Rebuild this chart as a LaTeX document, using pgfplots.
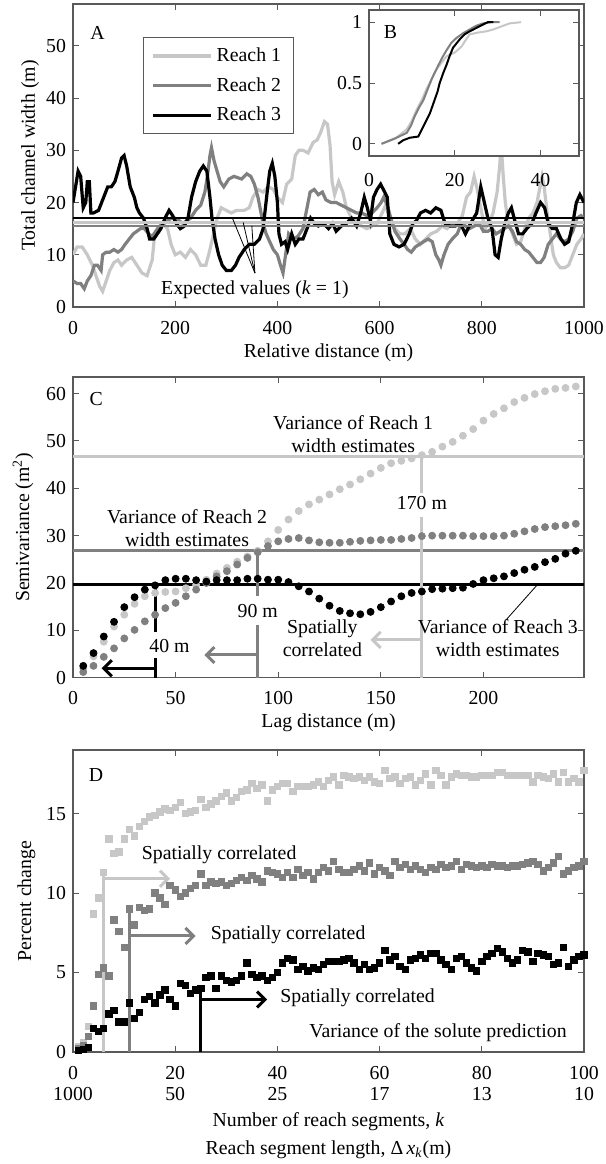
\documentclass[border=0pt]{standalone}
\usepackage{fontspec}
\setmainfont{Liberation Serif}
\usepackage{pgfplots}
\pgfplotsset{compat=1.18}
\usetikzlibrary{arrows.meta}
\definecolor{lg}{gray}{0.78}
\definecolor{dg}{gray}{0.5}
\definecolor{ax}{gray}{0.35}
\newcommand{\fs}{\fontsize{9.9}{11.5}\selectfont}
\pgfplotsset{
  myax/.style={
    scale only axis, width=255.5pt, font=\fs,
    axis line style={ax, line width=0.6pt},
    every tick/.style={ax, line width=0.5pt},
    major tick length=3pt, tick align=inside,
    /pgf/number format/assume math mode=true,
    /pgf/number format/1000 sep={},
    xticklabel style={yshift=-3.5pt},
    ylabel style={anchor=center},
    xlabel style={anchor=center},
  }
}
\begin{document}
\begin{tikzpicture}
\useasboundingbox (0,0) rectangle (303pt,-582pt);
% ---------------- Panel A ----------------
\begin{axis}[myax, at={(36.5pt,-2pt)}, anchor=north west, height=151.5pt,
  xmin=0, xmax=1000, ymin=0, ymax=58,
  xtick={0,200,...,1000}, ytick={0,10,...,50},
  xlabel={Relative distance (m)}, ylabel={Total channel width (m)},
  xlabel style={at={(axis description cs:0.5,-0.152)}},
  ylabel style={at={(axis description cs:-0.084,0.5)}},
  legend style={at={(axis description cs:0.137,0.891)}, anchor=north west,
    draw=ax, line width=0.5pt, font=\fs, row sep=2.5pt, inner xsep=4pt, inner ysep=3pt,
    cells={anchor=west}},
  legend image code/.code={\draw[#1] (0pt,0pt) -- (29pt,0pt);},
  legend cell align=left]
\addplot[lg, line width=1.6pt] coordinates {
(0,10) (8,11.5) (18,11.5) (28,10) (38,8) (45,6) (52,4) (58,3) (65,5) (72,7) (80,8.5) (88,9) (95,8) (105,9) (115,9.5) (125,8) (135,6.5) (145,6) (155,9) (160,14) (165,15) (175,16) (185,15) (192,12) (200,10) (210,10.5) (220,9.5) (230,11) (240,10) (250,8) (260,8) (268,11) (275,14) (282,17) (290,19) (300,18.5) (310,18) (320,18.5) (335,18.5) (345,19) (352,21) (362,22.5) (372,22) (382,23) (392,22.5) (400,21) (410,20) (418,23.5) (428,24.5) (435,29) (442,30) (450,30) (460,29.5) (470,31.5) (478,32) (485,33.5) (492,35.5) (498,35) (503,31) (507,24) (512,21.5) (520,24) (528,22) (535,19) (545,17) (555,16.5) (565,15.5) (575,15) (585,15.5) (595,16) (605,18) (612,19.5) (620,17) (630,15) (640,14) (650,14) (660,15) (670,13) (680,12) (690,13) (700,14) (712,14.5) (722,15.5) (732,15) (742,16) (752,16) (762,17.5) (770,21) (778,22) (785,25) (790,23) (798,19) (806,15) (814,16) (822,18) (830,22) (835,27) (838,31) (842,25) (846,20) (852,16) (860,14) (868,12) (876,12.5) (884,15) (892,17) (900,18) (908,20) (914,23) (918,25) (922,23) (928,18) (934,14) (940,10) (946,8.5) (954,7.5) (962,7.5) (970,8) (978,10) (986,12) (994,13) (1000,14)};
\addlegendentry{Reach 1}
\addplot[dg, line width=1.6pt] coordinates {
(0,5) (8,4.5) (15,4.5) (22,3.5) (28,5) (35,6) (42,8) (48,8) (55,7) (58,10) (65,10.5) (72,10.5) (80,11) (88,10.5) (95,11) (102,12) (110,13) (118,14) (125,14.5) (132,15) (140,15) (148,14) (155,13.5) (162,14.5) (170,15.5) (178,16) (185,16.5) (192,17) (200,17) (208,16.5) (215,16) (222,16.5) (230,17) (240,18.5) (250,19.5) (258,22) (263,25) (268,29) (271,30.5) (276,28) (282,26) (288,24) (295,23) (305,24.5) (315,25) (330,24.5) (340,25.5) (348,25) (355,23.5) (362,21) (366,19) (372,16) (378,14) (385,12.5) (392,11) (400,10) (406,8) (411,6.5) (416,10) (422,14) (430,13) (440,13.5) (450,15) (458,19) (464,22) (472,22.5) (480,21.5) (488,22) (495,20.5) (505,20) (515,20) (525,19.5) (535,19) (545,18.5) (555,18) (565,18) (575,17.5) (585,18) (595,19) (603,20) (608,21) (615,19.5) (622,17) (630,14.5) (640,13) (648,12) (655,11) (662,10.5) (670,11.5) (678,12) (686,12.5) (695,13) (703,12.5) (710,10) (716,9) (720,8) (726,10) (734,12) (742,13) (752,14) (760,16) (768,15.5) (776,15) (785,15.5) (795,16) (803,14.5) (812,14.5) (820,15) (828,14) (836,14.5) (844,15) (852,15.5) (860,14.5) (868,12.5) (876,12) (884,11) (892,10.5) (900,9.5) (908,8.5) (915,8.5) (922,9.5) (930,12) (938,13) (946,14) (954,13) (962,12.5) (970,13) (978,14.5) (986,17) (994,17.5) (1000,17)};
\addlegendentry{Reach 2}
\addplot[black, line width=1.6pt] coordinates {
(0,20) (5,23) (10,26) (15,25) (20,19) (25,20) (28,24) (32,24) (35,18) (40,18) (50,18.5) (60,21) (68,23) (75,23) (82,24) (88,26) (95,28.5) (100,29) (105,27) (112,23) (120,21) (125,19) (130,18) (138,17) (145,15) (150,13) (158,13) (165,14) (172,15) (180,17) (188,18.5) (195,17.5) (202,16) (210,15) (218,15.5) (225,17) (232,21) (240,24) (248,26) (255,27) (262,26) (268,21) (272,17) (278,13) (285,10) (292,8) (300,7) (310,7) (318,8) (325,9.5) (335,11) (345,12) (355,12) (365,13) (372,15) (380,22) (385,26) (390,27.5) (395,25) (400,20) (403,14) (408,12) (415,12.5) (420,11) (428,14) (435,12) (442,13) (450,13) (458,15) (465,17) (472,16) (480,15.5) (490,16) (500,15) (508,16) (515,14.5) (525,15.5) (535,16) (545,17) (555,15.5) (563,18) (570,21) (576,19) (582,16.5) (588,21) (595,22.5) (602,23.5) (610,22) (615,21) (620,14) (628,12) (638,11.5) (648,12) (658,14) (665,16) (672,16.5) (680,18) (690,18.5) (700,18) (710,19) (720,18.5) (728,16) (738,15.5) (748,15.5) (758,16) (768,14) (778,16) (790,18) (798,23) (805,20) (812,17) (820,15) (826,10) (832,9.5) (838,13) (845,16) (852,18) (858,19) (866,16) (872,14) (880,14) (888,15) (898,16) (906,18) (915,20) (923,19) (930,16) (938,15) (946,15) (955,13) (962,12) (970,12.5) (978,16) (985,20) (992,21.5) (1000,20)};
\addlegendentry{Reach 3}
\addplot[black, line width=1.2pt, forget plot] coordinates {(0,17.0) (1000,17.0)};
\addplot[lg, line width=1.2pt, forget plot] coordinates {(0,16.2) (1000,16.2)};
\addplot[dg, line width=1.2pt, forget plot] coordinates {(0,15.5) (1000,15.5)};
\draw[black, line width=0.4pt] (axis cs:356,6.5) -- (axis cs:312,17.0);
\draw[black, line width=0.4pt] (axis cs:356,6.5) -- (axis cs:333,16.2);
\draw[black, line width=0.4pt] (axis cs:356,6.5) -- (axis cs:350,15.5);
\node[font=\fs, fill=white, inner sep=1pt] at (axis cs:356,3.3) {Expected values (\textit{k} = 1)};
\node[font=\fs] at (axis cs:48,52.5) {A};
\end{axis}
% ---------------- Inset B ----------------
\begin{axis}[myax, at={(184.5pt,-5pt)}, anchor=north west, width=105pt, height=73pt,
  xmin=0, xmax=49, ymin=-0.1, ymax=1.1,
  xtick={0,20,40}, ytick={0,0.5,1},
  xticklabel style={yshift=-1.5pt},
  axis background/.style={fill=white}]
\addplot[lg, line width=1pt] coordinates {
(3,0) (6,0.04) (8.8,0.12) (10,0.19) (11.1,0.28) (12.3,0.36) (13.4,0.45) (14.6,0.53) (15.7,0.61) (17,0.67) (18.1,0.72) (20,0.75) (21.6,0.80) (22.5,0.85) (23.5,0.90) (25.5,0.915) (27.4,0.925) (29,0.94) (30.5,0.96) (32.8,0.99) (35.5,1.0)};
\addplot[dg, line width=1pt] coordinates {
(2.9,0) (6.4,0.05) (8.8,0.09) (9.8,0.15) (10.7,0.23) (11.7,0.30) (12.7,0.36) (13.7,0.45) (14.6,0.53) (15.4,0.59) (16.1,0.64) (17.1,0.71) (18.1,0.77) (19.2,0.83) (20.4,0.87) (22,0.91) (23.5,0.94) (25,0.97) (26.6,0.99) (28.5,1.0) (30.5,1.0)};
\addplot[black, line width=1pt] coordinates {
(6.8,0) (8,0.03) (9.5,0.05) (11.5,0.06) (12.7,0.145) (14.2,0.25) (15.3,0.36) (16,0.43) (16.5,0.5) (17.3,0.58) (18.1,0.65) (18.8,0.72) (19.6,0.79) (21.2,0.86) (22.3,0.90) (23.5,0.925) (25.8,0.966) (27.7,1.0) (29,1.0)};
\node[font=\fs] at (axis cs:5,0.92) {B};
\end{axis}
% ---------------- Panel C ----------------
\begin{axis}[myax, at={(36.5pt,-188.5pt)}, anchor=north west, height=150.35pt,
  xmin=0, xmax=249, ymin=0, ymax=63.5,
  xtick={0,50,...,200}, ytick={0,10,...,60},
  xlabel={Lag distance (m)}, ylabel={Semivariance (m\textsuperscript{2})},
  xlabel style={at={(axis description cs:0.5,-0.15)}},
  ylabel style={at={(axis description cs:-0.098,0.5)}}]
\addplot[lg, line width=1.5pt] coordinates {(0,46.8) (249,46.8)};
\addplot[dg, line width=1.5pt] coordinates {(0,26.8) (249,26.8)};
\addplot[black, line width=1.5pt] coordinates {(0,19.7) (249,19.7)};
\draw[lg, line width=1.5pt] (axis cs:170,0) -- (axis cs:170,34);
\draw[lg, line width=1.5pt] (axis cs:170,39.1) -- (axis cs:170,46.8);
\draw[dg, line width=1.5pt] (axis cs:90,0) -- (axis cs:90,11.2);
\draw[dg, line width=1.5pt] (axis cs:90,17.2) -- (axis cs:90,26.8);
\draw[black, line width=1.5pt] (axis cs:40,0) -- (axis cs:40,4.2);
\draw[black, line width=1.5pt] (axis cs:40,9.6) -- (axis cs:40,19.7);
\draw[lg, line width=1.5pt, -{Straight Barb[length=4pt,width=8pt]}] (axis cs:170,8.0) -- (axis cs:145,8.0);
\draw[dg, line width=1.5pt, -{Straight Barb[length=4pt,width=8pt]}] (axis cs:90,4.8) -- (axis cs:64,4.8);
\draw[black, line width=1.5pt, -{Straight Barb[length=4pt,width=8pt]}] (axis cs:40,2.0) -- (axis cs:14,2.0);
\draw[black, line width=0.4pt] (axis cs:211,12.2) -- (axis cs:226,19.5);
\addplot[only marks, mark=*, mark size=1.75pt, lg, mark options={fill=lg, draw=lg}] coordinates {
(5,2.0) (10,4.5) (15,7.6) (20,10.8) (25,13.3) (30,15.6) (35,17.2) (40,17.9) (45,18.1) (50,18.2) (55,18.9) (60,19.6) (65,20.7) (70,22.0) (75,23.2) (80,24.5) (85,25.6) (90,26.8) (95,28.8) (100,31.2) (105,33.4) (110,35.2) (115,36.6) (120,37.6) (125,38.7) (130,39.8) (135,40.8) (140,41.9) (145,43.1) (150,44.3) (155,45.3) (160,45.8) (165,46.3) (170,47.0) (175,47.7) (180,48.8) (185,49.8) (190,51.1) (195,52.5) (200,54.3) (205,55.7) (210,56.9) (215,58.2) (220,59.1) (225,59.9) (230,60.5) (235,61.0) (240,61.2) (245,61.5)};
\addplot[only marks, mark=*, mark size=1.75pt, dg, mark options={fill=dg, draw=dg}] coordinates {
(5,1.2) (10,2.5) (15,4.4) (20,6.2) (25,8.3) (30,10.1) (35,11.9) (40,13.3) (45,14.7) (50,15.8) (55,17.2) (60,18.6) (65,20.0) (70,21.4) (75,22.5) (80,23.9) (85,25.3) (90,26.5) (95,27.8) (100,28.8) (105,29.3) (110,29.5) (115,29.0) (120,28.6) (125,28.5) (130,28.5) (135,28.7) (140,28.9) (145,29.0) (150,29.1) (155,29.1) (160,29.3) (165,29.5) (170,29.9) (175,30.0) (180,30.0) (185,30.0) (190,30.0) (195,29.9) (200,29.9) (205,29.9) (210,30.0) (215,30.4) (220,30.9) (225,31.4) (230,31.8) (235,32.0) (240,32.2) (245,32.5)};
\addplot[only marks, mark=*, mark size=1.75pt, black, mark options={fill=black, draw=black}] coordinates {
(5,2.5) (10,5.2) (15,8.7) (20,11.8) (25,14.9) (30,17.0) (35,18.6) (40,19.5) (45,20.6) (50,20.9) (55,20.9) (60,20.6) (65,20.3) (70,20.6) (75,20.6) (80,20.6) (85,20.9) (90,20.9) (95,20.7) (100,20.7) (105,20.2) (110,19.3) (115,18.2) (120,16.7) (125,15.2) (130,14.1) (135,13.6) (140,13.4) (145,13.9) (150,14.9) (155,16.1) (160,17.2) (165,17.9) (170,18.2) (175,18.7) (180,18.8) (185,18.9) (190,19.0) (195,19.8) (200,20.6) (205,21.0) (210,21.4) (215,22.1) (220,22.8) (225,23.4) (230,24.4) (235,25.1) (240,26.2) (245,26.8)};
\node[font=\fs] at (axis cs:11.3,58.8) {C};
\node[font=\fs, align=center] at (axis cs:136.5,51.4) {Variance of Reach 1\\width estimates};
\node[font=\fs, align=center] at (axis cs:55.6,31.6) {Variance of Reach 2\\width estimates};
\node[font=\fs, align=center] at (axis cs:207,8.3) {Variance of Reach 3\\width estimates};
\node[font=\fs, align=center] at (axis cs:121.5,8.3) {Spatially\\correlated};
\node[font=\fs] at (axis cs:170,36.9) {170 m};
\node[font=\fs] at (axis cs:90,14.0) {90 m};
\node[font=\fs] at (axis cs:47,6.6) {40 m};
\end{axis}
% ---------------- Panel D ----------------
\begin{axis}[myax, at={(36.5pt,-375pt)}, anchor=north west, height=151pt,
  xmin=0, xmax=100, ymin=0, ymax=19,
  xtick={0,20,...,100}, ytick={0,5,10,15},
  xticklabels={{0\\1000},{20\\50},{40\\25},{60\\17},{80\\13},{100\\10}},
  xticklabel style={align=center, font=\fontsize{9.9}{10.5}\selectfont},
  ylabel={Percent change},
  xlabel={Number of reach segments, \textit{k}\\[2.5pt]Reach segment length, Δ\,\textit{x}\textsubscript{\textit{k}}(m)},
  xlabel style={align=center, at={(axis description cs:0.5,-0.278)}},
  ylabel style={at={(axis description cs:-0.091,0.5)}}]
\draw[lg, line width=1.5pt] (axis cs:6,0) -- (axis cs:6,11.2);
\draw[dg, line width=1.5pt] (axis cs:11,0) -- (axis cs:11,9.1);
\draw[black, line width=1.5pt] (axis cs:25,0) -- (axis cs:25,4.0);
\draw[lg, line width=1.5pt, -{Straight Barb[length=4pt,width=8pt]}] (axis cs:6,10.9) -- (axis cs:19,10.9);
\draw[dg, line width=1.5pt, -{Straight Barb[length=4pt,width=8pt]}] (axis cs:11,7.3) -- (axis cs:24,7.3);
\draw[black, line width=1.5pt, -{Straight Barb[length=4pt,width=8pt]}] (axis cs:25,3.3) -- (axis cs:38,3.3);
\addplot[only marks, mark=square*, mark size=1.6pt, lg, mark options={fill=lg, draw=lg}] coordinates {
(1,0.35) (2,0.6) (3,1.6) (4,8.7) (5,9.7) (6,11.3) (7,13.4) (8,12.5) (9,12.6) (10,13.4) (11,14.0) (12,13.6) (13,14.2) (14,14.5) (15,14.8) (16,14.9) (17,15.1) (18,15.3) (19,15.2) (20,15.4) (21,15.7) (22,15.0) (23,15.1) (24,15.2) (25,15.9) (26,15.4) (27,15.6) (28,15.8) (29,16.1) (30,16.3) (31,15.8) (32,16.0) (33,16.4) (34,16.5) (35,16.9) (36,16.6) (37,16.8) (38,15.8) (39,16.5) (40,16.7) (41,16.9) (42,16.9) (43,16.4) (44,16.7) (45,16.7) (46,16.7) (47,16.8) (48,17.0) (49,16.7) (50,17.1) (51,17.3) (52,16.8) (53,17.4) (54,17.3) (55,17.2) (56,17.3) (57,17.1) (58,17.3) (59,17.0) (60,16.9) (61,17.7) (62,17.2) (63,17.3) (64,16.9) (65,17.2) (66,17.3) (67,16.8) (68,17.1) (69,17.5) (70,16.8) (71,17.7) (72,17.4) (73,16.8) (74,17.3) (75,17.5) (76,17.4) (77,17.4) (78,17.3) (79,17.3) (80,17.4) (81,17.4) (82,17.4) (83,17.6) (84,17.6) (85,17.4) (86,17.4) (87,17.4) (88,17.4) (89,17.4) (90,17.0) (91,17.4) (92,17.3) (93,17.2) (94,17.5) (95,17.0) (96,17.6) (97,17.0) (98,17.2) (99,17.0) (100,17.7)};
\addplot[only marks, mark=square*, mark size=1.6pt, dg, mark options={fill=dg, draw=dg}] coordinates {
(1,0.2) (2,0.4) (3,1.0) (4,2.9) (5,4.9) (6,5.3) (7,4.8) (8,8.3) (9,7.6) (10,6.6) (11,9.0) (12,8.0) (13,9.1) (14,8.9) (15,9.0) (16,10.0) (17,9.7) (18,9.3) (19,10.5) (20,10.2) (21,9.8) (22,10.0) (23,10.3) (24,10.5) (25,11.2) (26,10.5) (27,10.7) (28,10.6) (29,10.7) (30,10.5) (31,10.6) (32,10.8) (33,11.0) (34,10.8) (35,11.1) (36,10.9) (37,10.7) (38,11.4) (39,11.3) (40,11.2) (41,11.0) (42,11.3) (43,11.0) (44,11.5) (45,11.1) (46,11.3) (47,10.9) (48,11.3) (49,11.6) (50,11.4) (51,12.0) (52,11.5) (53,11.3) (54,11.3) (55,11.5) (56,11.7) (57,11.4) (58,11.9) (59,11.2) (60,11.6) (61,11.4) (62,11.1) (63,12.0) (64,11.6) (65,11.8) (66,11.5) (67,11.7) (68,11.5) (69,11.3) (70,11.6) (71,11.5) (72,11.8) (73,11.6) (74,11.7) (75,12.0) (76,11.5) (77,11.8) (78,11.7) (79,11.6) (80,11.7) (81,11.6) (82,11.8) (83,11.7) (84,11.7) (85,11.6) (86,11.7) (87,11.7) (88,11.8) (89,11.9) (90,12.0) (91,11.8) (92,11.4) (93,11.6) (94,11.9) (95,12.3) (96,11.2) (97,11.4) (98,11.6) (99,11.7) (100,12.0)};
\addplot[only marks, mark=square*, mark size=1.6pt, black, mark options={fill=black, draw=black}] coordinates {
(1,0.1) (2,0.15) (3,0.3) (4,1.5) (5,1.3) (6,1.5) (7,2.4) (8,2.6) (9,1.9) (10,1.9) (11,3.1) (12,2.1) (13,2.5) (14,3.3) (15,3.5) (16,3.1) (17,3.6) (18,3.9) (19,3.3) (20,2.9) (21,4.3) (22,4.2) (23,3.7) (24,3.9) (25,4.0) (26,4.7) (27,4.8) (28,4.0) (29,4.8) (30,4.5) (31,4.4) (32,4.5) (33,4.8) (34,5.6) (35,4.9) (36,4.7) (37,4.8) (38,4.5) (39,4.7) (40,5.0) (41,5.6) (42,5.9) (43,5.8) (44,5.2) (45,5.4) (46,5.1) (47,5.3) (48,5.2) (49,5.5) (50,5.7) (51,5.7) (52,5.7) (53,5.8) (54,5.9) (55,5.6) (56,5.2) (57,5.5) (58,5.2) (59,5.3) (60,5.6) (61,6.4) (62,5.8) (63,6.0) (64,5.4) (65,5.2) (66,5.8) (67,5.9) (68,6.1) (69,5.9) (70,6.2) (71,6.2) (72,5.8) (73,5.5) (74,5.2) (75,5.9) (76,6.0) (77,5.6) (78,5.3) (79,5.1) (80,5.7) (81,6.0) (82,6.2) (83,6.5) (84,6.3) (85,5.9) (86,5.6) (87,5.8) (88,6.4) (89,6.3) (90,5.7) (91,6.2) (92,6.1) (93,6.0) (94,5.5) (95,5.6) (96,6.6) (97,5.4) (98,5.8) (99,6.0) (100,6.1)};
\node[font=\fs] at (axis cs:4.5,17.4) {D};
\node[font=\fs, anchor=west] at (axis cs:12.1,12.4) {Spatially correlated};
\node[font=\fs, anchor=west] at (axis cs:25.6,7.4) {Spatially correlated};
\node[font=\fs, anchor=west] at (axis cs:39.2,3.4) {Spatially correlated};
\node[font=\fs, anchor=east] at (axis cs:98,1.2) {Variance of the solute prediction};
\end{axis}
\end{tikzpicture}
\end{document}
